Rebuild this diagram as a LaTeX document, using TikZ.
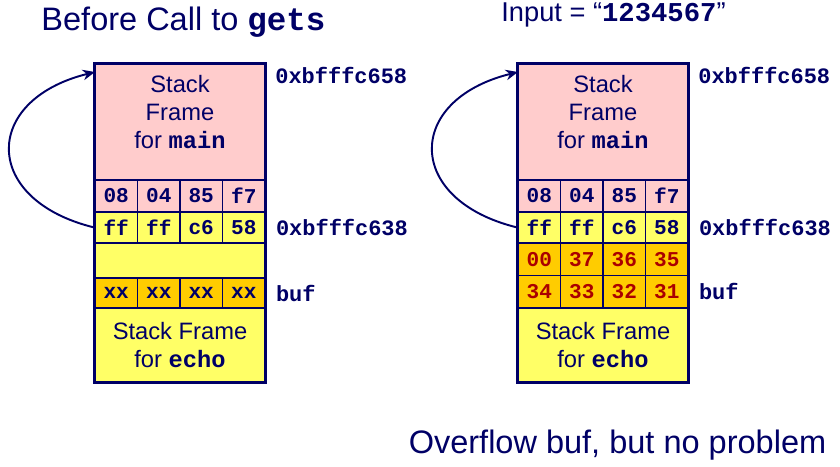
\documentclass[tikz,border=0pt]{standalone}
\usepackage{fontspec}
\setmainfont{Liberation Sans}
\setmonofont{Liberation Mono}
\usepackage{xcolor}
\usepackage{tikz}
\usetikzlibrary{arrows.meta, positioning, fit}

\definecolor{navy}{RGB}{0,0,102}
\definecolor{stackpink}{RGB}{255,204,204}
\definecolor{stackyellow}{RGB}{255,255,102}
\definecolor{stackorange}{RGB}{255,204,0}
\definecolor{bytered}{RGB}{170,0,0}
\newcommand{\code}[1]{{\ttfamily\bfseries #1}}

\begin{document}
\begin{tikzpicture}[
    % Frame blocks (whole width of the stack)
    frame/.style={draw=navy, line width=0.8pt, minimum width=3.4cm, inner sep=0pt, align=center, text=navy, font=\fontsize{13.5}{16}\selectfont},
    % One byte of the stack
    cell/.style={draw=navy, line width=0.8pt, minimum width=0.85cm, inner sep=0pt, text=navy, font=\fontsize{12}{14}\selectfont\ttfamily\bfseries},
    pinkcell/.style={cell, fill=stackpink, minimum height=0.64cm},
    yellowcell/.style={cell, fill=stackyellow, minimum height=0.62cm},
    orangecell/.style={cell, fill=stackorange, minimum height=0.6cm},
    hotcell/.style={cell, fill=stackorange, minimum height=0.65cm, text=bytered},
    % Thick border round a stack
    outline/.style={draw=navy, line width=1.6pt, inner sep=0pt},
    % Address and variable labels
    addr/.style={anchor=west, inner sep=0pt, text=navy, font=\fontsize{12.5}{14}\selectfont\ttfamily\bfseries},
    heading/.style={text=navy, inner sep=0pt, font=\fontsize{18.5}{22}\selectfont},
    % Saved frame pointer link
    link/.style={-{Stealth[length=7pt, width=6pt]}, draw=navy, line width=1.1pt}
]
\useasboundingbox (0,0) rectangle (16.8,-9.32);

% ---------------------------------------------------
% 1. HEADINGS
% ---------------------------------------------------
\node[heading] (before) at (3.67,-0.44) {Before Call to \code{gets}};
\node[heading, font=\fontsize{15.5}{18}\selectfont] (input) at (12.27,-0.3) {Input = “\code{1234567}”};
\node[heading] (overflow) at (12.35,-8.9) {Overflow buf, but no problem};

% ---------------------------------------------------
% 2. LEFT STACK (before the call)
% ---------------------------------------------------
\node[frame, fill=stackpink, minimum height=2.32cm, text depth=0.4cm] (lmain) at (3.6,-2.44) {Stack\\Frame\\for \code{main}};

\node[pinkcell] (lret1) at (2.325,-3.92) {08};
\node[pinkcell] (lret2) at (3.175,-3.92) {04};
\node[pinkcell] (lret3) at (4.025,-3.92) {85};
\node[pinkcell] (lret4) at (4.875,-3.92) {f7};

\node[yellowcell] (lebp1) at (2.325,-4.55) {ff};
\node[yellowcell] (lebp2) at (3.175,-4.55) {ff};
\node[yellowcell] (lebp3) at (4.025,-4.55) {c6};
\node[yellowcell] (lebp4) at (4.875,-4.55) {58};

\node[frame, fill=stackyellow, minimum height=0.7cm] (lgap) at (3.6,-5.21) {};

\node[orangecell] (lbuf1) at (2.325,-5.86) {xx};
\node[orangecell] (lbuf2) at (3.175,-5.86) {xx};
\node[orangecell] (lbuf3) at (4.025,-5.86) {xx};
\node[orangecell] (lbuf4) at (4.875,-5.86) {xx};

\node[frame, fill=stackyellow, minimum height=1.48cm] (lecho) at (3.6,-6.9) {Stack Frame\\for \code{echo}};

\node[outline, fit=(lmain)(lecho)] (lstack) {};

\node[addr] (ltop) at (5.5,-1.5) {0xbfffc658};
\node[addr, right=0.2cm of lebp4] (lsaved) {0xbfffc638};
\node[addr, right=0.2cm of lbuf4] (lbuf) {buf};

\draw[link] (lebp1.west) .. controls (-0.37,-4.0) and (-0.37,-2.0) .. (1.9,-1.44);

% ---------------------------------------------------
% 3. RIGHT STACK (after the input)
% ---------------------------------------------------
\node[frame, fill=stackpink, minimum height=2.32cm, text depth=0.4cm] (rmain) at (12.06,-2.44) {Stack\\Frame\\for \code{main}};

\node[pinkcell] (rret1) at (10.785,-3.92) {08};
\node[pinkcell] (rret2) at (11.635,-3.92) {04};
\node[pinkcell] (rret3) at (12.485,-3.92) {85};
\node[pinkcell] (rret4) at (13.335,-3.92) {f7};

\node[yellowcell] (rebp1) at (10.785,-4.55) {ff};
\node[yellowcell] (rebp2) at (11.635,-4.55) {ff};
\node[yellowcell] (rebp3) at (12.485,-4.55) {c6};
\node[yellowcell] (rebp4) at (13.335,-4.55) {58};

\node[hotcell] (rpad1) at (10.785,-5.185) {00};
\node[hotcell] (rpad2) at (11.635,-5.185) {37};
\node[hotcell] (rpad3) at (12.485,-5.185) {36};
\node[hotcell] (rpad4) at (13.335,-5.185) {35};

\node[hotcell] (rbuf1) at (10.785,-5.835) {34};
\node[hotcell] (rbuf2) at (11.635,-5.835) {33};
\node[hotcell] (rbuf3) at (12.485,-5.835) {32};
\node[hotcell] (rbuf4) at (13.335,-5.835) {31};

\node[frame, fill=stackyellow, minimum height=1.48cm] (recho) at (12.06,-6.9) {Stack Frame\\for \code{echo}};

\node[outline, fit=(rmain)(recho)] (rstack) {};

\node[addr] (rtop) at (13.96,-1.5) {0xbfffc658};
\node[addr, right=0.2cm of rebp4] (rsaved) {0xbfffc638};
\node[addr, right=0.2cm of rbuf4] (rbuf) {buf};

\draw[link] (rebp1.west) .. controls (8.09,-4.0) and (8.09,-2.0) .. (10.36,-1.44);

\end{tikzpicture}
\end{document}
